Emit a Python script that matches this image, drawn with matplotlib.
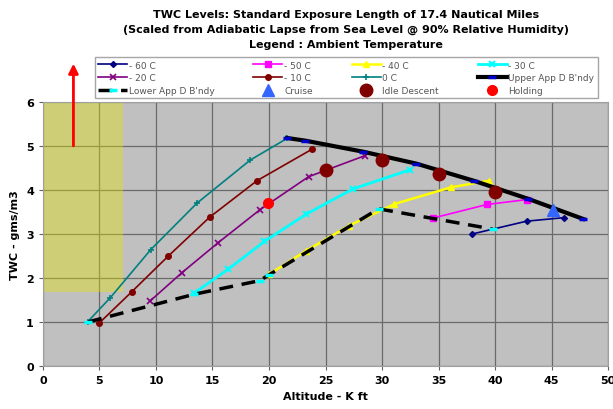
import numpy as np
import matplotlib
matplotlib.use('Agg')
import matplotlib.pyplot as plt

# data (altitude K ft, TWC gms/m3)
m60_x = [38.0, 42.8, 46.1]
m60_y = [3.0, 3.29, 3.37]
m50_x = [34.5, 39.3, 42.8]
m50_y = [3.36, 3.67, 3.78]
m40_x = [20.0, 23.3, 27.1, 31.1, 36.1, 39.5]
m40_y = [2.08, 2.62, 3.19, 3.68, 4.06, 4.21]
m30_x = [13.4, 16.4, 19.6, 23.3, 27.4, 32.5]
m30_y = [1.66, 2.2, 2.83, 3.45, 4.02, 4.46]
m20_x = [9.5, 12.3, 15.5, 19.2, 23.5, 28.5]
m20_y = [1.48, 2.12, 2.80, 3.55, 4.30, 4.78]
m10_x = [4.96, 7.88, 11.06, 14.75, 18.94, 23.84]
m10_y = [0.97, 1.69, 2.49, 3.38, 4.21, 4.93]
z0_x = [3.98, 5.96, 9.53, 13.63, 18.35, 21.6]
z0_y = [1.01, 1.55, 2.64, 3.70, 4.68, 5.17]
upper_x = [21.6, 23.2, 28.3, 33.0, 38.1, 42.9, 47.8]
upper_y = [5.18, 5.12, 4.87, 4.6, 4.21, 3.8, 3.34]
lower_x = [4.0, 13.4, 19.2, 20.0, 29.7, 39.8]
lower_y = [1.0, 1.63, 1.94, 2.07, 3.57, 3.11]
idle_x = [25.0, 30.0, 35.0, 40.0]
idle_y = [4.46, 4.69, 4.36, 3.95]
cruise_x = [45.1]
cruise_y = [3.55]
hold_x = [19.9]
hold_y = [3.70]

fig = plt.figure(figsize=(6.13, 4.10), dpi=100)
ax = fig.add_axes([0.070, 0.105, 0.922, 0.644])
ax.set_facecolor('#c0c0c0')
ax.set_xlim(0, 50)
ax.set_ylim(0, 6)
ax.set_xticks(np.arange(0, 51, 5))
ax.set_yticks(np.arange(0, 7, 1))
ax.grid(True, color='#6a6a6a', lw=0.9)
ax.set_axisbelow(True)
for s in ax.spines.values():
    s.set_color('#a0a0a0')
ax.tick_params(labelsize=8, length=3, color='#606060')
for lab in ax.get_xticklabels() + ax.get_yticklabels():
    lab.set_fontweight('bold')

# yellow box
ax.fill_between([0, 7.05], 1.68, 6, color='#e6e600', alpha=0.38, lw=0, zorder=1.5)

l1, = ax.plot(m60_x, m60_y, '-D', color='#000080', ms=3, lw=1.2, zorder=3)
l2, = ax.plot(m50_x, m50_y, '-s', color='#ff00ff', ms=4, lw=1.2, zorder=3)
l3, = ax.plot(m40_x, m40_y, '-^', color='#ffff00', ms=4, lw=1.8, zorder=3)
l4, = ax.plot(m30_x, m30_y, '-x', color='#00ffff', ms=4, mew=1.5, lw=2.0, zorder=3)
l5, = ax.plot(m20_x, m20_y, '-x', color='#800080', ms=4, mew=1.2, lw=1.2, zorder=3)
l6, = ax.plot(m10_x, m10_y, '-o', color='#800000', ms=4, lw=1.2, zorder=3)
l7, = ax.plot(z0_x, z0_y, '-+', color='#008080', ms=4, mew=1.2, lw=1.2, zorder=3)
l8, = ax.plot(upper_x, upper_y, '-', color='black', lw=3, marker='_', ms=6,
              mec='#0000cc', mew=2.5, zorder=4)
l9, = ax.plot(lower_x, lower_y, '--', color='black', lw=2.5, dashes=(4, 2.5),
              marker='_', ms=6, mec='#00ffff', mew=2.5, zorder=4)
l10, = ax.plot(cruise_x, cruise_y, '^', color='#3366ff', ms=8, ls='none', zorder=5)
l11, = ax.plot(idle_x, idle_y, 'o', color='#800000', ms=9, ls='none', zorder=5)
l12, = ax.plot(hold_x, hold_y, 'o', color='#ff0000', ms=7, ls='none', zorder=5)

ax.annotate('', xy=(2.7, 6.87), xytext=(2.7, 5.0), annotation_clip=False,
            arrowprops=dict(arrowstyle='-|>', color='red', lw=2, mutation_scale=14,
                            shrinkA=0, shrinkB=0))

ax.set_xlabel('Altitude - K ft', fontsize=8, fontweight='bold')
ax.set_ylabel('TWC - gms/m3', fontsize=8, fontweight='bold')

fig.text(0.565, 0.963, 'TWC Levels: Standard Exposure Length of 17.4 Nautical Miles',
         ha='center', va='center', fontsize=8, fontweight='bold')
fig.text(0.565, 0.927, '(Scaled from Adiabatic Lapse from Sea Level @ 90% Relative Humidity)',
         ha='center', va='center', fontsize=8, fontweight='bold')
fig.text(0.565, 0.891, 'Legend : Ambient Temperature',
         ha='center', va='center', fontsize=8, fontweight='bold')

# legend filled column by column so rows read like the original
handles = [l1, l5, l9, l2, l6, l10, l3, l7, l11, l4, l8, l12]
labels = ['- 60 C', '- 20 C', 'Lower App D B\'ndy',
          '- 50 C', '- 10 C', 'Cruise',
          '- 40 C', '0 C', 'Idle Descent',
          '- 30 C', 'Upper App D B\'ndy', 'Holding']
leg = fig.legend(handles, labels, ncol=4, loc='center',
                 bbox_to_anchor=(0.565, 0.808), fontsize=6.5, frameon=True,
                 fancybox=False, edgecolor='#909090', handlelength=3.2,
                 columnspacing=4.3, labelspacing=0.4, borderpad=0.35,
                 handletextpad=0.2)
for t in leg.get_texts():
    t.set_color('#555555')

fig.savefig('out.png', dpi=100)
